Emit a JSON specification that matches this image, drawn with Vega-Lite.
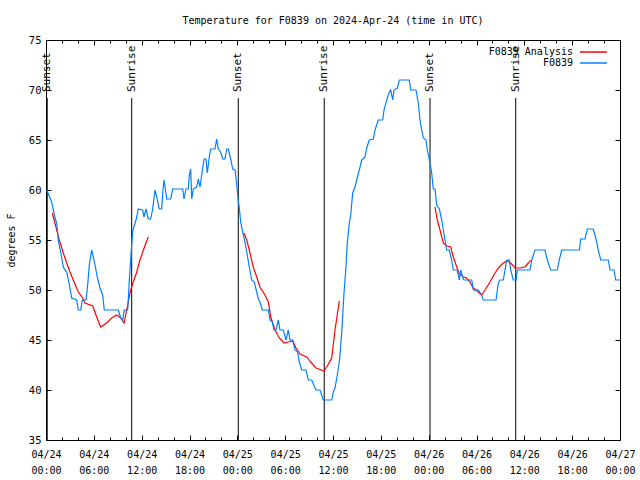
{
  "$schema": "https://vega.github.io/schema/vega-lite/v6.json",
  "width": 574,
  "height": 400,
  "autosize": {"type": "none"},
  "padding": {"left": 46, "top": 40, "right": 20, "bottom": 40},
  "background": "white",
  "config": {
    "font": "DejaVu Sans Mono",
    "view": {"stroke": "black", "strokeWidth": 1},
    "axis": {"labelFont": "DejaVu Sans Mono", "titleFont": "DejaVu Sans Mono", "labelColor": "black", "titleColor": "black", "domain": false, "grid": false, "titleFontWeight": "normal"}
  },
  "title": {"text": "Temperature for F0839 on 2024-Apr-24 (time in UTC)", "font": "DejaVu Sans Mono", "fontSize": 10, "fontWeight": "normal", "color": "black", "offset": 9},
  "datasets": {
    "obs": [
      {"hour": 0.1, "temp": 60}, {"hour": 0.71, "temp": 58.8}, {"hour": 1.13, "temp": 57.2}, {"hour": 1.34, "temp": 56.7}, {"hour": 1.54, "temp": 55},
      {"hour": 1.84, "temp": 53.8}, {"hour": 2.17, "temp": 52.3}, {"hour": 2.38, "temp": 52}, {"hour": 2.6, "temp": 51.8}, {"hour": 2.89, "temp": 50.7},
      {"hour": 3.22, "temp": 49.2}, {"hour": 3.85, "temp": 49}, {"hour": 4.05, "temp": 48}, {"hour": 4.35, "temp": 48}, {"hour": 4.55, "temp": 49},
      {"hour": 5.02, "temp": 49}, {"hour": 5.23, "temp": 50.5}, {"hour": 5.43, "temp": 52.5}, {"hour": 5.73, "temp": 54}, {"hour": 5.93, "temp": 53.3},
      {"hour": 6.15, "temp": 52.5}, {"hour": 6.44, "temp": 51.3}, {"hour": 6.77, "temp": 50.2}, {"hour": 7.11, "temp": 49.5}, {"hour": 7.31, "temp": 48},
      {"hour": 9.07, "temp": 48}, {"hour": 9.37, "temp": 47.2}, {"hour": 9.62, "temp": 47}, {"hour": 9.82, "temp": 48}, {"hour": 10.25, "temp": 48},
      {"hour": 10.45, "temp": 51}, {"hour": 10.62, "temp": 53}, {"hour": 10.79, "temp": 55}, {"hour": 10.9, "temp": 56}, {"hour": 11.29, "temp": 57},
      {"hour": 11.58, "temp": 58.1}, {"hour": 12.13, "temp": 58}, {"hour": 12.29, "temp": 57.3}, {"hour": 12.54, "temp": 58.1}, {"hour": 12.83, "temp": 57.1},
      {"hour": 13.13, "temp": 57.1}, {"hour": 13.38, "temp": 58.1}, {"hour": 13.67, "temp": 60}, {"hour": 13.89, "temp": 59.3}, {"hour": 14.21, "temp": 58.1},
      {"hour": 14.51, "temp": 58.1}, {"hour": 14.64, "temp": 59.7}, {"hour": 14.8, "temp": 61}, {"hour": 14.96, "temp": 60.2}, {"hour": 15.14, "temp": 59.1},
      {"hour": 15.64, "temp": 59.1}, {"hour": 15.89, "temp": 60.1}, {"hour": 17.15, "temp": 60.1}, {"hour": 17.31, "temp": 59.1}, {"hour": 17.56, "temp": 60.1},
      {"hour": 17.85, "temp": 60.1}, {"hour": 17.98, "temp": 61.5}, {"hour": 18.15, "temp": 62.1}, {"hour": 18.28, "temp": 59.1}, {"hour": 18.48, "temp": 60.1},
      {"hour": 18.9, "temp": 60.3}, {"hour": 19.1, "temp": 61.1}, {"hour": 19.32, "temp": 60.3}, {"hour": 19.53, "temp": 61.5}, {"hour": 19.82, "temp": 63.1},
      {"hour": 20.07, "temp": 63.1}, {"hour": 20.23, "temp": 61.7}, {"hour": 20.48, "temp": 63.3}, {"hour": 20.66, "temp": 64.1}, {"hour": 21.2, "temp": 64.1},
      {"hour": 21.41, "temp": 65.1}, {"hour": 21.61, "temp": 64.1}, {"hour": 21.91, "temp": 63.8}, {"hour": 22.16, "temp": 63.1}, {"hour": 22.45, "temp": 63.1},
      {"hour": 22.67, "temp": 64.1}, {"hour": 22.87, "temp": 64.1}, {"hour": 23.17, "temp": 63.1}, {"hour": 23.42, "temp": 62.1}, {"hour": 23.71, "temp": 62},
      {"hour": 23.9, "temp": 60.7}, {"hour": 24.12, "temp": 59}, {"hour": 24.25, "temp": 58.2}, {"hour": 24.42, "temp": 56.8}, {"hour": 24.67, "temp": 55.8},
      {"hour": 24.96, "temp": 54.8}, {"hour": 25.18, "temp": 53.8}, {"hour": 25.5, "temp": 52.3}, {"hour": 25.8, "temp": 51}, {"hour": 26.13, "temp": 50.8},
      {"hour": 26.43, "temp": 49.8}, {"hour": 26.63, "temp": 49.1}, {"hour": 26.84, "temp": 48.8}, {"hour": 27.13, "temp": 48}, {"hour": 27.89, "temp": 48},
      {"hour": 28.1, "temp": 47}, {"hour": 28.39, "temp": 46.8}, {"hour": 28.6, "temp": 46}, {"hour": 28.85, "temp": 46}, {"hour": 29.14, "temp": 47},
      {"hour": 29.35, "temp": 46}, {"hour": 29.77, "temp": 46}, {"hour": 30.11, "temp": 45}, {"hour": 30.39, "temp": 46}, {"hour": 30.61, "temp": 45},
      {"hour": 30.95, "temp": 45}, {"hour": 31.23, "temp": 44}, {"hour": 31.57, "temp": 43.8}, {"hour": 31.77, "temp": 42.8}, {"hour": 32.07, "temp": 42},
      {"hour": 32.61, "temp": 42}, {"hour": 32.9, "temp": 41}, {"hour": 33.33, "temp": 41}, {"hour": 33.87, "temp": 40}, {"hour": 34.37, "temp": 40},
      {"hour": 34.78, "temp": 39}, {"hour": 35.84, "temp": 39}, {"hour": 36.04, "temp": 39.8}, {"hour": 36.25, "temp": 40.2}, {"hour": 36.54, "temp": 41.5},
      {"hour": 36.82, "temp": 43}, {"hour": 37.09, "temp": 45.7}, {"hour": 37.38, "temp": 49.7}, {"hour": 37.63, "temp": 52.3}, {"hour": 37.79, "temp": 54.7},
      {"hour": 38.05, "temp": 56.7}, {"hour": 38.22, "temp": 57.5}, {"hour": 38.47, "temp": 59.7}, {"hour": 38.76, "temp": 60.3}, {"hour": 38.97, "temp": 61},
      {"hour": 39.3, "temp": 62}, {"hour": 39.6, "temp": 63}, {"hour": 40.01, "temp": 63.3}, {"hour": 40.23, "temp": 64.2}, {"hour": 40.55, "temp": 65},
      {"hour": 41.06, "temp": 65.1}, {"hour": 41.27, "temp": 66}, {"hour": 41.68, "temp": 67}, {"hour": 42.24, "temp": 67}, {"hour": 42.4, "temp": 68},
      {"hour": 42.74, "temp": 69}, {"hour": 43.03, "temp": 69.7}, {"hour": 43.24, "temp": 70}, {"hour": 43.49, "temp": 69}, {"hour": 43.65, "temp": 70},
      {"hour": 44.07, "temp": 70.2}, {"hour": 44.32, "temp": 71}, {"hour": 45.57, "temp": 71}, {"hour": 45.75, "temp": 70}, {"hour": 46.41, "temp": 70},
      {"hour": 46.7, "temp": 68.7}, {"hour": 46.91, "temp": 67}, {"hour": 47.13, "temp": 66}, {"hour": 47.33, "temp": 65.2}, {"hour": 47.67, "temp": 65},
      {"hour": 47.83, "temp": 64}, {"hour": 48.17, "temp": 62.7}, {"hour": 48.38, "temp": 61.7}, {"hour": 48.58, "temp": 60.1}, {"hour": 48.8, "temp": 60.1},
      {"hour": 49.01, "temp": 58.5}, {"hour": 49.34, "temp": 58.1}, {"hour": 49.64, "temp": 57}, {"hour": 49.84, "temp": 56}, {"hour": 50.05, "temp": 55},
      {"hour": 50.26, "temp": 54}, {"hour": 50.59, "temp": 54}, {"hour": 50.89, "temp": 53}, {"hour": 51.09, "temp": 52}, {"hour": 51.59, "temp": 52},
      {"hour": 51.84, "temp": 51}, {"hour": 52.02, "temp": 52}, {"hour": 52.27, "temp": 51.3}, {"hour": 52.43, "temp": 51}, {"hour": 53.4, "temp": 51},
      {"hour": 53.6, "temp": 50}, {"hour": 54.23, "temp": 50}, {"hour": 54.65, "temp": 49.5}, {"hour": 54.85, "temp": 49}, {"hour": 56.45, "temp": 49},
      {"hour": 56.74, "temp": 50.7}, {"hour": 56.95, "temp": 51}, {"hour": 57.36, "temp": 51}, {"hour": 57.58, "temp": 52}, {"hour": 57.79, "temp": 53},
      {"hour": 58.12, "temp": 53}, {"hour": 58.29, "temp": 52}, {"hour": 58.62, "temp": 51}, {"hour": 58.96, "temp": 51}, {"hour": 59.12, "temp": 52},
      {"hour": 60.71, "temp": 52}, {"hour": 60.93, "temp": 53}, {"hour": 61.34, "temp": 54}, {"hour": 62.59, "temp": 54}, {"hour": 62.88, "temp": 53},
      {"hour": 63.31, "temp": 52}, {"hour": 64.13, "temp": 52}, {"hour": 64.38, "temp": 53}, {"hour": 64.69, "temp": 54}, {"hour": 66.9, "temp": 54},
      {"hour": 67.07, "temp": 55.1}, {"hour": 67.61, "temp": 55.1}, {"hour": 67.9, "temp": 56.1}, {"hour": 68.65, "temp": 56.1}, {"hour": 68.99, "temp": 55.1},
      {"hour": 69.28, "temp": 54}, {"hour": 69.58, "temp": 53}, {"hour": 70.53, "temp": 53}, {"hour": 70.75, "temp": 52}, {"hour": 71.25, "temp": 52},
      {"hour": 71.46, "temp": 51}, {"hour": 72, "temp": 51}
    ],
    "analysis": [
      {"segment": 1, "hour": 0.79, "temp": 57.7}, {"segment": 1, "hour": 1.25, "temp": 56.3}, {"segment": 1, "hour": 1.67, "temp": 55}, {"segment": 1, "hour": 2.17, "temp": 53.7},
      {"segment": 1, "hour": 2.6, "temp": 52.7}, {"segment": 1, "hour": 3.01, "temp": 51.8}, {"segment": 1, "hour": 3.42, "temp": 51}, {"segment": 1, "hour": 4.05, "temp": 49.8},
      {"segment": 1, "hour": 4.6, "temp": 49.2}, {"segment": 1, "hour": 4.89, "temp": 48.7}, {"segment": 1, "hour": 5.86, "temp": 48.4}, {"segment": 1, "hour": 6.36, "temp": 47.3},
      {"segment": 1, "hour": 6.86, "temp": 46.3}, {"segment": 1, "hour": 7.61, "temp": 46.7}, {"segment": 1, "hour": 8.24, "temp": 47.2}, {"segment": 1, "hour": 8.87, "temp": 47.5},
      {"segment": 1, "hour": 9.37, "temp": 47.2}, {"segment": 1, "hour": 9.78, "temp": 46.7}, {"segment": 1, "hour": 10.2, "temp": 48.3}, {"segment": 1, "hour": 10.62, "temp": 50},
      {"segment": 1, "hour": 10.95, "temp": 50.8}, {"segment": 1, "hour": 11.38, "temp": 51.8}, {"segment": 1, "hour": 11.79, "temp": 53}, {"segment": 1, "hour": 12.21, "temp": 54},
      {"segment": 1, "hour": 12.54, "temp": 54.7}, {"segment": 1, "hour": 12.83, "temp": 55.3},
      {"segment": 2, "hour": 24.84, "temp": 55.7}, {"segment": 2, "hour": 25.18, "temp": 55}, {"segment": 2, "hour": 25.59, "temp": 53.7}, {"segment": 2, "hour": 26.0, "temp": 52.3},
      {"segment": 2, "hour": 26.43, "temp": 51.3}, {"segment": 2, "hour": 26.84, "temp": 50.3}, {"segment": 2, "hour": 27.47, "temp": 49.5}, {"segment": 2, "hour": 27.89, "temp": 48.8},
      {"segment": 2, "hour": 28.19, "temp": 47.3}, {"segment": 2, "hour": 28.73, "temp": 46}, {"segment": 2, "hour": 29.26, "temp": 45.2}, {"segment": 2, "hour": 29.85, "temp": 44.7},
      {"segment": 2, "hour": 30.39, "temp": 44.8}, {"segment": 2, "hour": 30.95, "temp": 44.9}, {"segment": 2, "hour": 31.36, "temp": 44.2}, {"segment": 2, "hour": 31.86, "temp": 43.6},
      {"segment": 2, "hour": 32.7, "temp": 43.3}, {"segment": 2, "hour": 33.2, "temp": 42.8}, {"segment": 2, "hour": 33.87, "temp": 42.2}, {"segment": 2, "hour": 34.87, "temp": 41.9},
      {"segment": 2, "hour": 35.29, "temp": 42.4}, {"segment": 2, "hour": 35.84, "temp": 43.2}, {"segment": 2, "hour": 36.25, "temp": 46}, {"segment": 2, "hour": 36.79, "temp": 48.9},
      {"segment": 3, "hour": 48.8, "temp": 58.3}, {"segment": 3, "hour": 49.08, "temp": 57}, {"segment": 3, "hour": 49.42, "temp": 56}, {"segment": 3, "hour": 49.84, "temp": 54.7},
      {"segment": 3, "hour": 50.26, "temp": 54.4}, {"segment": 3, "hour": 50.77, "temp": 54.3}, {"segment": 3, "hour": 51.09, "temp": 53.3}, {"segment": 3, "hour": 51.52, "temp": 52.3},
      {"segment": 3, "hour": 51.84, "temp": 51.6}, {"segment": 3, "hour": 52.34, "temp": 51.3}, {"segment": 3, "hour": 52.77, "temp": 51.2}, {"segment": 3, "hour": 53.18, "temp": 50.8},
      {"segment": 3, "hour": 53.6, "temp": 50.2}, {"segment": 3, "hour": 54.23, "temp": 49.8}, {"segment": 3, "hour": 54.65, "temp": 49.5}, {"segment": 3, "hour": 55.07, "temp": 50},
      {"segment": 3, "hour": 55.69, "temp": 50.8}, {"segment": 3, "hour": 56.32, "temp": 51.7}, {"segment": 3, "hour": 56.86, "temp": 52.3}, {"segment": 3, "hour": 57.36, "temp": 52.7},
      {"segment": 3, "hour": 57.86, "temp": 52.9}, {"segment": 3, "hour": 58.29, "temp": 52.7}, {"segment": 3, "hour": 58.83, "temp": 52.2}, {"segment": 3, "hour": 59.46, "temp": 52.2},
      {"segment": 3, "hour": 60.08, "temp": 52.3}, {"segment": 3, "hour": 60.5, "temp": 52.7}, {"segment": 3, "hour": 60.8, "temp": 53}
    ],
    "sun": [
      {"hour": 0.15, "event": "Sunset"},
      {"hour": 10.75, "event": "Sunrise"},
      {"hour": 24.12, "event": "Sunset"},
      {"hour": 34.9, "event": "Sunrise"},
      {"hour": 48.17, "event": "Sunset"},
      {"hour": 58.92, "event": "Sunrise"}
    ]
  },
  "layer": [
    {
      "data": {"name": "sun"},
      "mark": {"type": "rule", "color": "black", "strokeWidth": 1},
      "encoding": {
        "x": {"field": "hour", "type": "quantitative", "scale": {"domain": [0, 72], "nice": false, "zero": false},
          "axis": {"orient": "bottom", "title": null, "values": [0,6,12,18,24,30,36,42,48,54,60,66,72],
            "labelExpr": "[utcFormat(utc(2024,3,24) + datum.value*3600000, '%m/%d'), utcFormat(utc(2024,3,24) + datum.value*3600000, '%H:%M')]",
            "labelFontSize": 10, "labelLineHeight": 16, "labelPadding": 14, "labelFlush": false, "labelOverlap": false,
            "ticks": true, "tickColor": "black", "tickWidth": 1, "tickSize": -5}},
        "y": {"datum": 69.2, "type": "quantitative", "scale": {"domain": [35, 75], "nice": false, "zero": false},
          "axis": {"orient": "left", "title": "degrees F", "values": [35,40,45,50,55,60,65,70,75], "labelFontSize": 10.5, "titleFontSize": 10,
            "ticks": true, "tickColor": "black", "tickWidth": 1, "tickSize": -5, "labelPadding": 10, "titlePadding": 12}},
        "y2": {"datum": 35}
      }
    },
    {
      "data": {"name": "sun"},
      "mark": {"type": "text", "angle": 270, "align": "left", "baseline": "middle", "font": "DejaVu Sans Mono", "fontSize": 11, "color": "black"},
      "encoding": {
        "x": {"field": "hour", "type": "quantitative", "axis": {"orient": "top", "title": null, "labels": false, "values": [0,6,12,18,24,30,36,42,48,54,60,66,72], "ticks": true, "tickColor": "black", "tickWidth": 1, "tickSize": -5}},
        "y": {"datum": 69.8, "type": "quantitative", "axis": {"orient": "right", "title": null, "labels": false, "values": [35,40,45,50,55,60,65,70,75], "ticks": true, "tickColor": "black", "tickWidth": 1, "tickSize": -5}},
        "text": {"field": "event"}
      }
    },
    {
      "data": {"name": "analysis"},
      "mark": {"type": "line", "strokeWidth": 1.2, "interpolate": "linear"},
      "encoding": {
        "x": {"field": "hour", "type": "quantitative", "axis": {"orient": "bottom", "title": null, "labels": false, "values": [2,4,8,10,14,16,20,22,26,28,32,34,38,40,44,46,50,52,56,58,62,64,68,70], "ticks": true, "tickColor": "black", "tickWidth": 1, "tickSize": -3}},
        "y": {"field": "temp", "type": "quantitative", "axis": null},
        "detail": {"field": "segment"},
        "color": {"datum": "F0839 Analysis", "scale": {"domain": ["F0839 Analysis", "F0839"], "range": ["#ff0000", "#0080ff"]},
          "legend": {"title": null, "orient": "none", "legendX": 542, "legendY": 6.5, "symbolType": "M-3,0H3", "symbolSize": 81, "symbolStrokeWidth": 1.5, "labelAlign": "right", "labelOffset": -26, "labelFont": "DejaVu Sans Mono", "labelFontSize": 10, "labelColor": "black", "rowPadding": 0}}
      }
    },
    {
      "data": {"name": "obs"},
      "mark": {"type": "line", "strokeWidth": 1.2, "interpolate": "linear"},
      "encoding": {
        "x": {"field": "hour", "type": "quantitative", "axis": {"orient": "top", "title": null, "labels": false, "values": [2,4,8,10,14,16,20,22,26,28,32,34,38,40,44,46,50,52,56,58,62,64,68,70], "ticks": true, "tickColor": "black", "tickWidth": 1, "tickSize": -3}},
        "y": {"field": "temp", "type": "quantitative", "axis": null},
        "color": {"datum": "F0839"}
      }
    }
  ]
}
